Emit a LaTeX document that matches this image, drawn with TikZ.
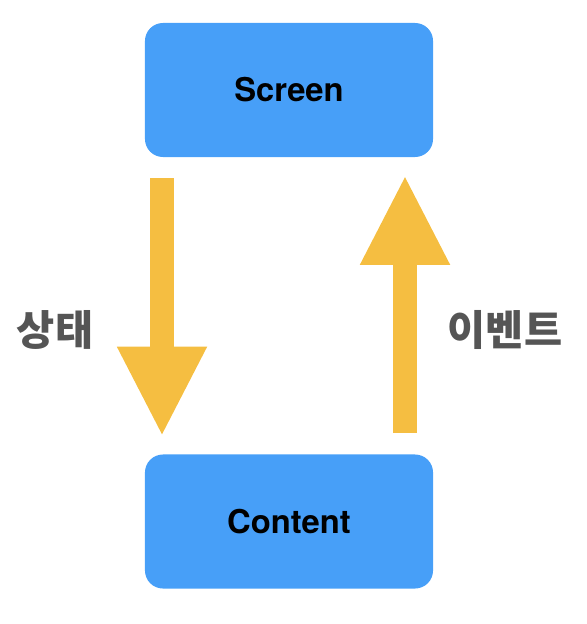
\documentclass[tikz,border=0pt]{standalone}
\usepackage{fontspec}
\setmainfont{TeX Gyre Heros}
\newfontfamily\krfont{Noto Sans CJK KR}
\usetikzlibrary{arrows.meta, positioning, calc}
\definecolor{boxblue}{RGB}{71,159,248}
\definecolor{arrowyellow}{RGB}{245,190,65}
\definecolor{labelgray}{RGB}{85,85,85}
\tikzset{
  screenbox/.style={rectangle, fill=boxblue, minimum width=7.2cm,
    minimum height=3.35cm, rounded corners=0.45cm, inner sep=0pt,
    font=\fontsize{23.3}{27}\selectfont\bfseries},
  flowarrow/.style={draw=arrowyellow, line width=0.6cm,
    -{Triangle[width=2.08cm, length=2.25cm, fill=arrowyellow]},
    shorten <=0.525cm, shorten >=0.44cm},
  sidelabel/.style={font=\krfont\fontsize{29.5}{33}\selectfont\bfseries, color=labelgray}
}
\begin{document}
\begin{tikzpicture}[x=0.025cm, y=-0.025cm]
  \useasboundingbox (0,0) rectangle (586,624);

  % Boxes
  \node[screenbox] (screen) at (289,90) {Screen};
  \node[screenbox] (content) at (289,521.5) {Content};

  % State goes down, events go up
  \draw[flowarrow] ($(screen.south)+(-127,0)$) -- ($(content.north)+(-127,0)$);
  \draw[flowarrow] ($(content.north)+(116,0)$) -- ($(screen.south)+(116,0)$);

  % Labels
  \node[sidelabel] (state) at (55,330) {상태};
  \node[sidelabel] (event) at (505,330) {이벤트};
\end{tikzpicture}
\end{document}
